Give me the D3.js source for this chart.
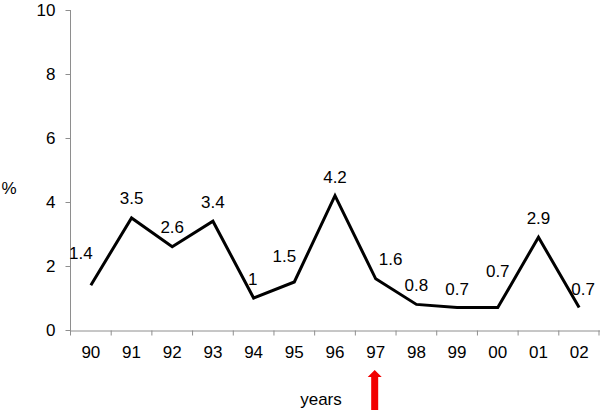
<!DOCTYPE html>
<html>
<head>
<meta charset="utf-8">
<script src="https://cdn.jsdelivr.net/npm/d3@7"></script>
<style>
  body { margin: 0; background: #fff; }
  svg { display: block; font-family: 'Liberation Sans', Arial, Helvetica, sans-serif; }
  .axis path, .axis line { stroke: #8e8e8e; stroke-width: 1; }
  .axis text { fill: #000; font-size: 17px; }
</style>
</head>
<body>
<svg id="chart" width="600" height="419"></svg>
<script>
// data
var years = ['90', '91', '92', '93', '94', '95', '96', '97', '98', '99', '00', '01', '02']
var values = [1.4, 3.5, 2.6, 3.4, 1, 1.5, 4.2, 1.6, 0.8, 0.7, 0.7, 2.9, 0.7]
var yTicks = [0, 2, 4, 6, 8, 10]
var markedYear = '97'

// label nudges (px) so the value labels sit where the original had them
var labelDx = [-10, 0, 0, 0, -1, -10, 0, 15, 0, 0, 0, 0, 4]
var labelDy = [-32, -20, -20, -19, -19, -26, -19, -20, -19, -19, -37, -19, -19]

var svg = d3.select('#chart')

var x = d3.scaleBand().domain(years).range([70.5, 599.5])
var y = d3.scaleLinear().domain([0, 10]).range([330, 10])

var xAxis = svg.append('g')
  .attr('class', 'axis')
  .attr('transform', 'translate(0,' + 330.5 + ')')
  .call(d3.axisBottom(x).tickSize(5).tickSizeOuter(0).tickPadding(10)
    .tickValues(years))

// ticks sit on band edges, not centres
xAxis.selectAll('.tick line')
  .attr('x1', -x.bandwidth() / 2)
  .attr('x2', -x.bandwidth() / 2)
xAxis.append('line')
  .attr('x1', 599).attr('x2', 599).attr('y1', 0).attr('y2', 5)
  .attr('stroke', '#8e8e8e')

svg.append('g')
  .attr('class', 'axis')
  .attr('transform', 'translate(70.5,0)')
  .call(d3.axisLeft(y).tickValues(yTicks).tickSize(5).tickSizeOuter(0).tickPadding(10))
  .call(function (g) { g.select('.domain').attr('d', 'M0,' + y(10) + 'V' + (y(0) + 5)) })

var line = d3.line()
  .x(function (d, i) { return x(years[i]) + x.bandwidth() / 2 })
  .y(function (d) { return y(d) })

svg.append('path')
  .datum(values)
  .attr('fill', 'none')
  .attr('stroke', '#000')
  .attr('stroke-width', 3)
  .attr('stroke-linejoin', 'miter')
  .attr('d', line)

svg.append('g')
  .selectAll('text')
  .data(values)
  .enter()
  .append('text')
  .attr('x', function (d, i) { return x(years[i]) + x.bandwidth() / 2 + labelDx[i] })
  .attr('y', function (d, i) { return y(d) + labelDy[i] })
  .attr('dy', '0.35em')
  .attr('text-anchor', 'middle')
  .attr('font-size', 17)
  .attr('fill', '#000')
  .text(function (d) { return d })

// axis titles
svg.append('text')
  .attr('x', 9).attr('y', 188).attr('dy', '0.35em')
  .attr('text-anchor', 'middle')
  .attr('font-size', 17)
  .text('%')

svg.append('text')
  .attr('x', 321).attr('y', 405)
  .attr('text-anchor', 'middle')
  .attr('font-size', 17)
  .text('years')

// red arrow under the marked year
var ax = x(markedYear) + x.bandwidth() / 2 - 1
svg.append('path')
  .attr('d', 'M' + ax + ',370 L' + (ax + 7) + ',377 L' + (ax + 3.5) + ',377 L' + (ax + 3.5) + ',410 L' +
    (ax - 3.5) + ',410 L' + (ax - 3.5) + ',377 L' + (ax - 7) + ',377 Z')
  .attr('fill', '#f20000')
</script>
</body>
</html>
